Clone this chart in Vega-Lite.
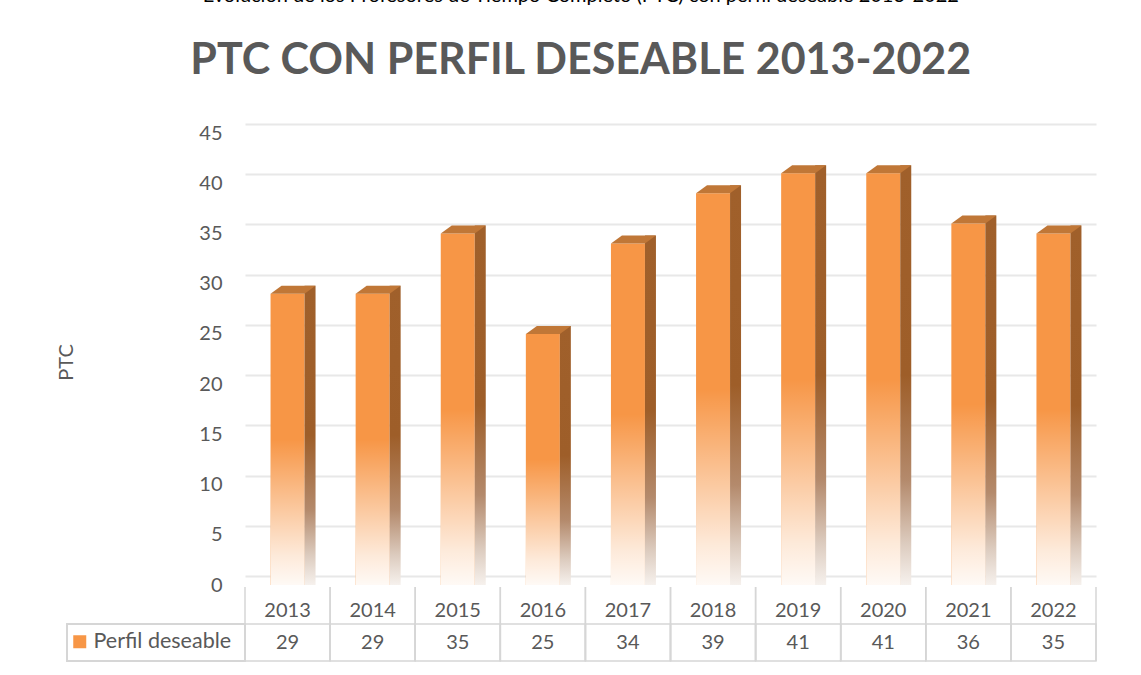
{
  "$schema": "https://vega.github.io/schema/vega-lite/v6.json",
  "padding": {"left": 56, "top": -14, "right": 0, "bottom": 0},
  "background": "white",
  "config": {"view": {"stroke": null}, "font": "Lato"},
  "title": {
    "text": "Evolución de los Profesores de Tiempo Completo (PTC) con perfil deseable 2013-2022",
    "fontSize": 20, "font": "Lato", "fontWeight": "normal", "color": "#000000",
    "subtitle": "PTC CON PERFIL DESEABLE 2013-2022",
    "subtitleFont": "Lato", "subtitleFontSize": 43, "subtitleFontWeight": "bold", "subtitleColor": "#595959",
    "subtitlePadding": 34, "anchor": "middle", "offset": 40, "dx": 4
  },
  "datasets": {
    "ptc": [
      {"year": "2013", "value": 29, "series": "Perfil deseable"},
      {"year": "2014", "value": 29, "series": "Perfil deseable"},
      {"year": "2015", "value": 35, "series": "Perfil deseable"},
      {"year": "2016", "value": 25, "series": "Perfil deseable"},
      {"year": "2017", "value": 34, "series": "Perfil deseable"},
      {"year": "2018", "value": 39, "series": "Perfil deseable"},
      {"year": "2019", "value": 41, "series": "Perfil deseable"},
      {"year": "2020", "value": 41, "series": "Perfil deseable"},
      {"year": "2021", "value": 36, "series": "Perfil deseable"},
      {"year": "2022", "value": 35, "series": "Perfil deseable"}
    ]
  },
  "spacing": 2,
  "bounds": "flush",
  "vconcat": [
    {
      "width": 851,
      "height": 461,
      "data": {"name": "ptc"},
      "layer": [
        {
          "mark": {"type": "point", "opacity": 0},
          "encoding": {
            "x": {"field": "year", "type": "nominal", "scale": {"type": "band", "paddingInner": 0, "paddingOuter": 0}, "axis": null},
            "y": {"field": "value", "type": "quantitative",
              "scale": {"domain": [-0.9, 45], "nice": false, "zero": false},
              "axis": {"orient": "right", "grid": true, "values": [0, 5, 10, 15, 20, 25, 30, 35, 40, 45], "labels": false, "ticks": false, "domain": false, "title": null, "gridColor": "#E8E8E8", "gridWidth": 2}}
          }
        },
        {
          "layer": [
            {
              "mark": {"type": "bar", "width": 34, "opacity": 1},
              "encoding": {
                "x": {"field": "year", "type": "nominal", "scale": {"type": "band", "paddingInner": 0, "paddingOuter": 0}, "axis": null},
                "y": {"field": "value", "type": "quantitative", "stack": null,
                  "scale": {"domain": [0, 45.9], "nice": false},
                  "axis": {"values": [0, 5, 10, 15, 20, 25, 30, 35, 40, 45], "grid": false, "ticks": false, "domain": false,
                    "labelPadding": 23, "labelFontSize": 20, "labelColor": "#595959", "labelFont": "Lato",
                    "title": "PTC", "titleFont": "Lato", "titleFontSize": 20, "titleFontWeight": "normal", "titleColor": "#595959", "titlePadding": 122, "titleY": 238}},
                "color": {"field": "series", "type": "nominal", "scale": {"range": ["#F79646"]},
                  "legend": {"orient": "none", "legendX": -176, "legendY": 507, "title": null, "symbolType": "square", "symbolSize": 169, "symbolStrokeWidth": 0, "labelFontSize": 21.5, "labelColor": "#595959", "labelFont": "Lato", "labelOffset": 3, "padding": 0}}
              }
            },
            {
              "mark": {"type": "bar", "width": 34, "opacity": 1,
                "fill": {"gradient": "linear", "x1": 0, "y1": 0, "x2": 0, "y2": 1, "stops": [
                  {"offset": 0, "color": "rgba(255,255,255,0)"},
                  {"offset": 0.5, "color": "rgba(255,255,255,0)"},
                  {"offset": 0.6, "color": "rgba(255,255,255,0.2)"},
                  {"offset": 0.75, "color": "rgba(255,255,255,0.5)"},
                  {"offset": 0.9, "color": "rgba(255,255,255,0.8)"},
                  {"offset": 1, "color": "rgba(255,255,255,0.95)"}
                ]}},
              "encoding": {
                "x": {"field": "year", "type": "nominal"},
                "y": {"field": "value", "type": "quantitative", "stack": null}
              }
            },
            {
              "mark": {"type": "bar", "width": 11, "xOffset": 22.5, "yOffset": -8, "y2Offset": 0, "opacity": 1,
                "fill": {"gradient": "linear", "x1": 0, "y1": 0, "x2": 0, "y2": 1, "stops": [
                  {"offset": 0, "color": "#A0602B"},
                  {"offset": 0.5, "color": "#9E5E29"},
                  {"offset": 0.75, "color": "#B48A6C"},
                  {"offset": 0.9, "color": "#DCCBBE"},
                  {"offset": 1, "color": "#F6F1ED"}
                ]}},
              "encoding": {
                "x": {"field": "year", "type": "nominal"},
                "y": {"field": "value", "type": "quantitative"},
                "y2": {"datum": 0}
              }
            },
            {
              "mark": {"type": "point", "filled": true, "opacity": 1, "shape": "M-17,0L-6,-8L28,-8L17,0Z", "size": 4, "color": "#C07737", "strokeWidth": 0},
              "encoding": {
                "x": {"field": "year", "type": "nominal"},
                "y": {"field": "value", "type": "quantitative"}
              }
            }
          ]
        }
      ],
      "resolve": {"scale": {"y": "independent"}, "axis": {"y": "independent"}}
    },
    {
      "width": 851,
      "height": 74,
      "data": {"name": "ptc"},
      "layer": [
        {
          "mark": {"type": "rect", "fill": "transparent", "stroke": "#D6D6D6", "strokeWidth": 1.5},
          "encoding": {
            "x": {"field": "year", "type": "nominal", "scale": {"type": "band", "paddingInner": 0, "paddingOuter": 0}, "axis": null},
            "y": {"datum": "b", "type": "nominal", "scale": {"type": "band", "domain": ["a", "b"], "paddingInner": 0, "paddingOuter": 0}, "axis": null}
          }
        },
        {
          "mark": {"type": "rect", "fill": "transparent", "stroke": "#D6D6D6", "strokeWidth": 1.5, "width": 178, "xOffset": -131.55},
          "encoding": {
            "x": {"datum": "2013", "type": "nominal"},
            "y": {"datum": "b", "type": "nominal"}
          }
        },
        {
          "mark": {"type": "rule", "color": "#D6D6D6", "strokeWidth": 1.5},
          "encoding": {"x": {"field": "year", "type": "nominal", "bandPosition": 0}}
        },
        {
          "mark": {"type": "rule", "color": "#D6D6D6", "strokeWidth": 1.5},
          "encoding": {"x": {"field": "year", "type": "nominal", "bandPosition": 1}}
        },
        {
          "mark": {"type": "text", "fontSize": 20, "font": "Lato", "color": "#595959", "dy": 5},
          "encoding": {
            "x": {"field": "year", "type": "nominal"},
            "y": {"datum": "a", "type": "nominal"},
            "text": {"field": "year"}
          }
        },
        {
          "mark": {"type": "text", "fontSize": 20, "font": "Lato", "color": "#595959"},
          "encoding": {
            "x": {"field": "year", "type": "nominal"},
            "y": {"datum": "b", "type": "nominal"},
            "text": {"field": "value"}
          }
        }
      ]
    }
  ]
}
